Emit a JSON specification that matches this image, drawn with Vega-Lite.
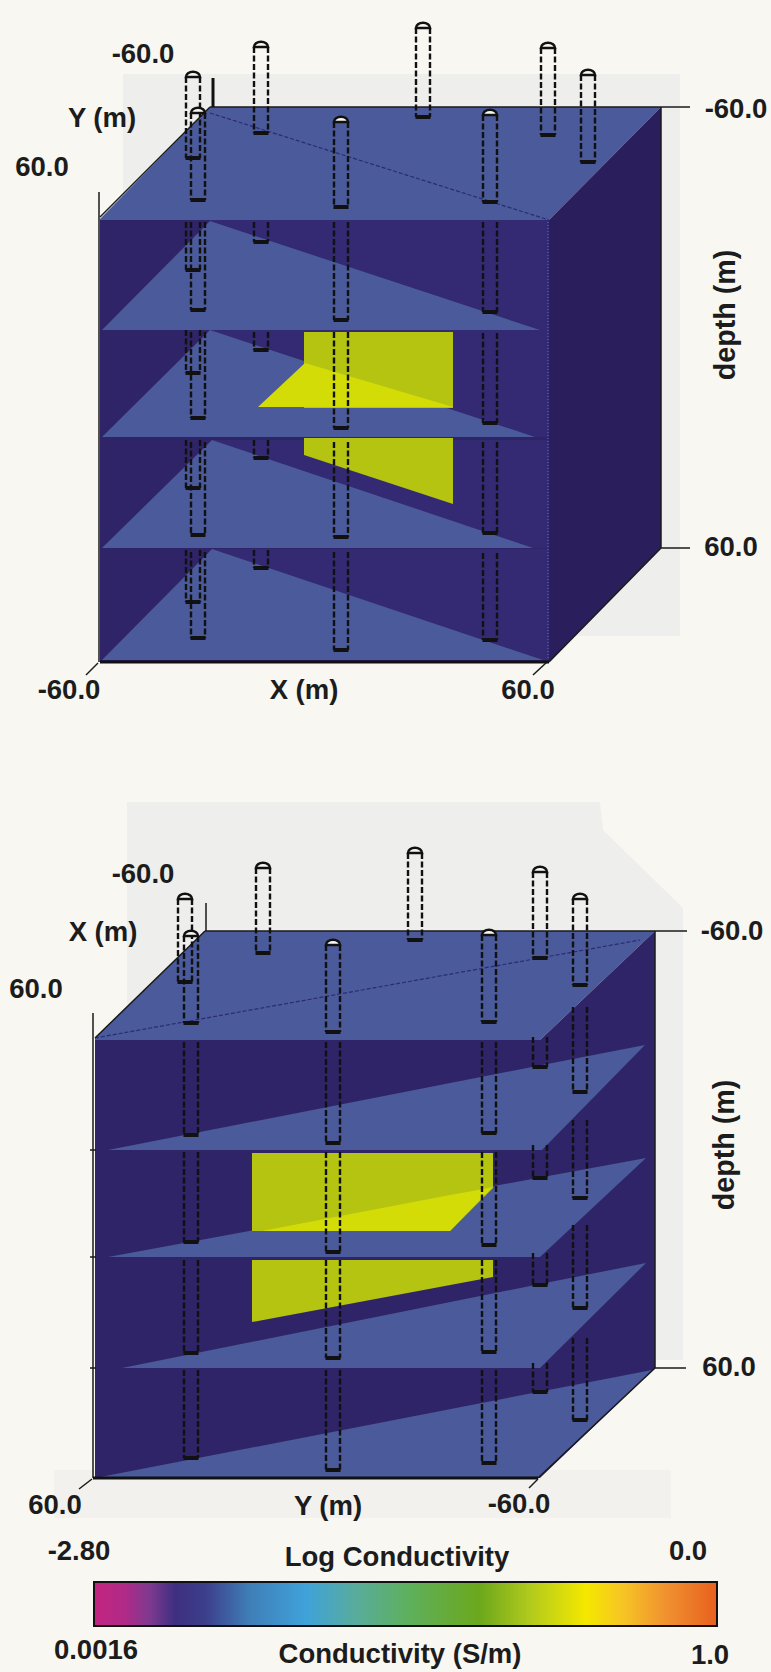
{"$schema":"https://vega.github.io/schema/vega-lite/v6.json","width":771,"height":1672,"padding":0,"autosize":{"type":"fit","contains":"padding"},"background":"#f8f7f1","config":{"view":{"stroke":null}},
"datasets":{
"polys":[
{"g":"ghost","p":"g1","tone":"ghost","x":123,"y":74,"y2":636},{"g":"ghost","p":"g1","tone":"ghost","x":680,"y":74,"y2":636},
{"g":"ghost","p":"g2","tone":"ghost","x":127,"y":802,"y2":1360},{"g":"ghost","p":"g2","tone":"ghost","x":600,"y":802,"y2":1360},{"g":"ghost","p":"g2","tone":"ghost","x":603,"y":830,"y2":1360},{"g":"ghost","p":"g2","tone":"ghost","x":683,"y":908,"y2":1360},
{"g":"ghost","p":"g3","tone":"ghostbar","x":54,"y":1470,"y2":1518},{"g":"ghost","p":"g3","tone":"ghostbar","x":671,"y":1470,"y2":1518},
{"g":"face","p":"t1","tone":"light","x":100,"y":219,"y2":220},{"g":"face","p":"t1","tone":"light","x":210,"y":107,"y2":220},{"g":"face","p":"t1","tone":"light","x":549,"y":107,"y2":220},{"g":"face","p":"t1","tone":"light","x":661,"y":107,"y2":107},
{"g":"face","p":"f1","tone":"dark","x":100,"y":220,"y2":662},{"g":"face","p":"f1","tone":"dark","x":549,"y":220,"y2":662},
{"g":"face","p":"r1","tone":"side","x":549,"y":220,"y2":662},{"g":"face","p":"r1","tone":"side","x":661,"y":107,"y2":548},
{"g":"face","p":"t2","tone":"light","x":95,"y":1038,"y2":1040},{"g":"face","p":"t2","tone":"light","x":205,"y":931,"y2":1040},{"g":"face","p":"t2","tone":"light","x":540,"y":931,"y2":1040},{"g":"face","p":"t2","tone":"light","x":655,"y":931,"y2":931},
{"g":"face","p":"f2","tone":"dark","x":95,"y":1040,"y2":1478},{"g":"face","p":"f2","tone":"dark","x":540,"y":1040,"y2":1478},
{"g":"face","p":"r2","tone":"dark","x":540,"y":1040,"y2":1478},{"g":"face","p":"r2","tone":"dark","x":655,"y":931,"y2":1368},
{"g":"mid","p":"m1","tone":"mid","x":208,"y":220,"y2":220},{"g":"mid","p":"m1","tone":"mid","x":540,"y":220,"y2":330},{"g":"mid","p":"m1","tone":"mid","x":549,"y":220,"y2":330},
{"g":"mid","p":"m2","tone":"mid","x":210,"y":330,"y2":330},{"g":"mid","p":"m2","tone":"mid","x":535,"y":330,"y2":437},{"g":"mid","p":"m2","tone":"mid","x":549,"y":330,"y2":437},
{"g":"mid","p":"m3","tone":"mid","x":212,"y":440,"y2":440},{"g":"mid","p":"m3","tone":"mid","x":533,"y":440,"y2":548},{"g":"mid","p":"m3","tone":"mid","x":549,"y":440,"y2":548},
{"g":"mid","p":"m4","tone":"mid","x":212,"y":549,"y2":549},{"g":"mid","p":"m4","tone":"mid","x":543,"y":549,"y2":660},{"g":"mid","p":"m4","tone":"mid","x":549,"y":549,"y2":660},
{"g":"shelf","p":"s12","tone":"light","x":102,"y":330,"y2":330},{"g":"shelf","p":"s12","tone":"light","x":210,"y":221,"y2":330},{"g":"shelf","p":"s12","tone":"light","x":540,"y":330,"y2":330},
{"g":"shelf","p":"s13","tone":"light","x":102,"y":437,"y2":437},{"g":"shelf","p":"s13","tone":"light","x":210,"y":330,"y2":437},{"g":"shelf","p":"s13","tone":"light","x":535,"y":437,"y2":437},
{"g":"shelf","p":"s14","tone":"light","x":102,"y":548,"y2":548},{"g":"shelf","p":"s14","tone":"light","x":212,"y":440,"y2":548},{"g":"shelf","p":"s14","tone":"light","x":533,"y":548,"y2":548},
{"g":"shelf","p":"s15","tone":"light","x":102,"y":660,"y2":660},{"g":"shelf","p":"s15","tone":"light","x":212,"y":549,"y2":660},{"g":"shelf","p":"s15","tone":"light","x":543,"y":660,"y2":660},
{"g":"shelf","p":"s22","tone":"light","x":108,"y":1150,"y2":1150},{"g":"shelf","p":"s22","tone":"light","x":542,"y":1065,"y2":1150},{"g":"shelf","p":"s22","tone":"light","x":645,"y":1045,"y2":1045},
{"g":"shelf","p":"s23","tone":"light","x":108,"y":1257,"y2":1257},{"g":"shelf","p":"s23","tone":"light","x":540,"y":1177.5,"y2":1257},{"g":"shelf","p":"s23","tone":"light","x":646,"y":1158,"y2":1158},
{"g":"shelf","p":"s24","tone":"light","x":122,"y":1368,"y2":1368},{"g":"shelf","p":"s24","tone":"light","x":540,"y":1284,"y2":1368},{"g":"shelf","p":"s24","tone":"light","x":646,"y":1263,"y2":1263},
{"g":"shelf","p":"s25","tone":"light","x":95,"y":1478,"y2":1478},{"g":"shelf","p":"s25","tone":"light","x":538,"y":1392,"y2":1478},{"g":"shelf","p":"s25","tone":"light","x":652,"y":1370,"y2":1370},
{"g":"dull","p":"d1","tone":"dull","x":304,"y":332,"y2":408},{"g":"dull","p":"d1","tone":"dull","x":453,"y":332,"y2":408},
{"g":"dull","p":"d2","tone":"dull","x":304,"y":438,"y2":455},{"g":"dull","p":"d2","tone":"dull","x":453,"y":438,"y2":504},
{"g":"dull","p":"d3","tone":"dull","x":252,"y":1153,"y2":1231},{"g":"dull","p":"d3","tone":"dull","x":450,"y":1153,"y2":1231},{"g":"dull","p":"d3","tone":"dull","x":493,"y":1153,"y2":1188},
{"g":"dull","p":"d4","tone":"dull","x":252,"y":1260,"y2":1322},{"g":"dull","p":"d4","tone":"dull","x":493,"y":1260,"y2":1277},
{"g":"bright","p":"b1","tone":"bright","x":258,"y":407,"y2":407},{"g":"bright","p":"b1","tone":"bright","x":305,"y":363,"y2":407},{"g":"bright","p":"b1","tone":"bright","x":453,"y":407,"y2":407},
{"g":"bright","p":"b2","tone":"bright","x":262,"y":1231,"y2":1231},{"g":"bright","p":"b2","tone":"bright","x":450,"y":1195,"y2":1231},{"g":"bright","p":"b2","tone":"bright","x":478,"y":1190,"y2":1202},{"g":"bright","p":"b2","tone":"bright","x":493,"y":1187,"y2":1187}
],
"segments":[
{"k":"diag","x":210,"y":113,"x2":549,"y2":220},{"k":"diag","x":95,"y":1038,"x2":640,"y2":940},
{"k":"dot","x":548,"y":222,"x2":548,"y2":660},
{"k":"thin","x":99,"y":192,"x2":99,"y2":662},{"k":"thin","x":100,"y":217,"x2":210,"y2":107},{"k":"thin","x":210,"y":107,"x2":690,"y2":107},{"k":"thin","x":661,"y":107,"x2":661,"y2":548},{"k":"thin","x":661,"y":548,"x2":690,"y2":548},{"k":"thin","x":549,"y":662,"x2":661,"y2":548},{"k":"thin","x":98,"y":663,"x2":86,"y2":675},{"k":"thin","x":547,"y":662,"x2":533,"y2":675},
{"k":"thin","x":93,"y":1013,"x2":93,"y2":1478},{"k":"thin","x":95,"y":1038,"x2":205,"y2":931},{"k":"thin","x":205,"y":931,"x2":687,"y2":931},{"k":"thin","x":655,"y":931,"x2":655,"y2":1368},{"k":"thin","x":655,"y":1368,"x2":686,"y2":1368},{"k":"thin","x":538,"y":1478,"x2":655,"y2":1368},{"k":"thin","x":92,"y":1479,"x2":79,"y2":1489},{"k":"thin","x":538,"y":1479,"x2":529,"y2":1488},{"k":"thin","x":206,"y":903,"x2":206,"y2":931},{"k":"thin","x":90,"y":1150,"x2":96,"y2":1150},{"k":"thin","x":90,"y":1257,"x2":96,"y2":1257},{"k":"thin","x":90,"y":1368,"x2":96,"y2":1368},
{"k":"thick","x":100,"y":662,"x2":549,"y2":662},{"k":"thick","x":93,"y":1478,"x2":538,"y2":1478},{"k":"thick","x":213,"y":78,"x2":213,"y2":107}
],
"wells":[
{"x":193,"y":77,"y2":158},{"x":193,"y":222,"y2":270},{"x":193,"y":330,"y2":373},{"x":193,"y":440,"y2":488},{"x":193,"y":550,"y2":602},
{"x":198,"y":113,"y2":200},{"x":198,"y":222,"y2":310},{"x":198,"y":332,"y2":418},{"x":198,"y":442,"y2":535},{"x":198,"y":552,"y2":638},
{"x":261,"y":47,"y2":133},{"x":261,"y":222,"y2":242},{"x":261,"y":332,"y2":350},{"x":261,"y":440,"y2":458},{"x":261,"y":550,"y2":568},
{"x":341,"y":122,"y2":207},{"x":341,"y":222,"y2":320},{"x":341,"y":332,"y2":428},{"x":341,"y":442,"y2":537},{"x":341,"y":552,"y2":650},
{"x":423,"y":28,"y2":117},
{"x":490,"y":115,"y2":202},{"x":490,"y":222,"y2":312},{"x":490,"y":333,"y2":423},{"x":490,"y":442,"y2":533},{"x":490,"y":553,"y2":640},
{"x":548,"y":48,"y2":135},{"x":588,"y":75,"y2":162},
{"x":185,"y":899,"y2":982},
{"x":191,"y":936,"y2":1023},{"x":191,"y":1042,"y2":1135},{"x":191,"y":1152,"y2":1242},{"x":191,"y":1260,"y2":1353},{"x":191,"y":1370,"y2":1458},
{"x":263,"y":868,"y2":953},
{"x":333,"y":945,"y2":1032},{"x":333,"y":1042,"y2":1143},{"x":333,"y":1152,"y2":1252},{"x":333,"y":1260,"y2":1358},{"x":333,"y":1370,"y2":1470},
{"x":415,"y":853,"y2":940},
{"x":489,"y":935,"y2":1022},{"x":489,"y":1042,"y2":1133},{"x":489,"y":1152,"y2":1245},{"x":489,"y":1260,"y2":1352},{"x":489,"y":1370,"y2":1463},
{"x":540,"y":872,"y2":958},{"x":540,"y":1037,"y2":1067},{"x":540,"y":1145,"y2":1178},{"x":540,"y":1253,"y2":1285},{"x":540,"y":1363,"y2":1392},
{"x":580,"y":899,"y2":985},{"x":580,"y":1007,"y2":1092},{"x":580,"y":1120,"y2":1198},{"x":580,"y":1225,"y2":1308},{"x":580,"y":1338,"y2":1420}
],
"caps":[{"x":193,"y":77},{"x":198,"y":113},{"x":261,"y":47},{"x":341,"y":122},{"x":423,"y":28},{"x":490,"y":115},{"x":548,"y":48},{"x":588,"y":75},{"x":185,"y":899},{"x":191,"y":936},{"x":263,"y":868},{"x":333,"y":945},{"x":415,"y":853},{"x":489,"y":935},{"x":540,"y":872},{"x":580,"y":899}],
"labels":[
{"x":143,"y":55,"t":"-60.0"},{"x":102,"y":119,"t":"Y (m)"},{"x":42,"y":168,"t":"60.0"},{"x":736,"y":110,"t":"-60.0"},{"x":731,"y":548,"t":"60.0"},{"x":69,"y":691,"t":"-60.0"},{"x":304,"y":691,"t":"X (m)"},{"x":528,"y":691,"t":"60.0"},
{"x":143,"y":875,"t":"-60.0"},{"x":103,"y":933,"t":"X (m)"},{"x":36,"y":990,"t":"60.0"},{"x":732,"y":932,"t":"-60.0"},{"x":729,"y":1368,"t":"60.0"},{"x":55,"y":1506,"t":"60.0"},{"x":328,"y":1507,"t":"Y (m)"},{"x":519,"y":1505,"t":"-60.0"},
{"x":79,"y":1552,"t":"-2.80"},{"x":397,"y":1558,"t":"Log Conductivity"},{"x":688,"y":1552,"t":"0.0"},{"x":96,"y":1651,"t":"0.0016"},{"x":400,"y":1655,"t":"Conductivity (S/m)"},{"x":710,"y":1656,"t":"1.0"}
],
"vlabels":[{"x":726,"y":315,"t":"depth (m)"},{"x":725,"y":1145,"t":"depth (m)"}],
"bar":[{"x":94,"y":1582,"x2":717,"y2":1626}]
},
"encoding":{
"x":{"field":"x","type":"quantitative","scale":{"domain":[0,771],"nice":false,"zero":false},"axis":null},
"y":{"field":"y","type":"quantitative","stack":null,"scale":{"domain":[1672,0],"nice":false,"zero":false},"axis":null}
},
"layer":[
{"data":{"name":"polys"},"transform":[{"filter":"datum.g=='ghost'"}],"mark":{"type":"area","orient":"vertical"},"encoding":{"y2":{"field":"y2"},"detail":{"field":"p"},"color":{"field":"tone","type":"nominal","legend":null,"scale":{"domain":["ghost","ghostbar","light","dark","side","mid","dull","bright"],"range":["#eeeeed","#f3f1ee","#4a5a9a","#2f2468","#2a1e5c","#342a74","#b4c410","#d4dc08"]}}}},
{"data":{"name":"polys"},"transform":[{"filter":"datum.g=='face'"}],"mark":{"type":"area","orient":"vertical"},"encoding":{"y2":{"field":"y2"},"detail":{"field":"p"},"color":{"field":"tone","type":"nominal","legend":null}}},
{"data":{"name":"polys"},"transform":[{"filter":"datum.g=='mid'"}],"mark":{"type":"area","orient":"vertical"},"encoding":{"y2":{"field":"y2"},"detail":{"field":"p"},"color":{"field":"tone","type":"nominal","legend":null}}},
{"data":{"name":"polys"},"transform":[{"filter":"datum.g=='shelf'"}],"mark":{"type":"area","orient":"vertical"},"encoding":{"y2":{"field":"y2"},"detail":{"field":"p"},"color":{"field":"tone","type":"nominal","legend":null}}},
{"data":{"name":"polys"},"transform":[{"filter":"datum.g=='dull'"}],"mark":{"type":"area","orient":"vertical"},"encoding":{"y2":{"field":"y2"},"detail":{"field":"p"},"color":{"field":"tone","type":"nominal","legend":null}}},
{"data":{"name":"polys"},"transform":[{"filter":"datum.g=='bright'"}],"mark":{"type":"area","orient":"vertical"},"encoding":{"y2":{"field":"y2"},"detail":{"field":"p"},"color":{"field":"tone","type":"nominal","legend":null}}},
{"data":{"name":"segments"},"transform":[{"filter":"datum.k=='diag'"}],"mark":{"type":"rule","color":"#2c2a78","strokeWidth":1.2,"strokeDash":[4,2]},"encoding":{"x2":{"field":"x2"},"y2":{"field":"y2"}}},
{"data":{"name":"segments"},"transform":[{"filter":"datum.k=='dot'"}],"mark":{"type":"rule","color":"#5566b8","strokeWidth":1.2,"strokeDash":[1,2]},"encoding":{"x2":{"field":"x2"},"y2":{"field":"y2"}}},
{"data":{"name":"segments"},"transform":[{"filter":"datum.k=='thin'"}],"mark":{"type":"rule","color":"#1a1a1a","strokeWidth":1.5},"encoding":{"x2":{"field":"x2"},"y2":{"field":"y2"}}},
{"data":{"name":"segments"},"transform":[{"filter":"datum.k=='thick'"}],"mark":{"type":"rule","color":"#111111","strokeWidth":3},"encoding":{"x2":{"field":"x2"},"y2":{"field":"y2"}}},
{"data":{"name":"wells"},"mark":{"type":"rule","color":"#111111","strokeWidth":2.4,"strokeDash":[6,2.5],"xOffset":-7},"encoding":{"y2":{"field":"y2"}}},
{"data":{"name":"wells"},"mark":{"type":"rule","color":"#111111","strokeWidth":2.4,"strokeDash":[6,2.5],"xOffset":7},"encoding":{"y2":{"field":"y2"}}},
{"data":{"name":"wells"},"mark":{"type":"tick","orient":"horizontal","color":"#111111","size":15,"thickness":4,"opacity":1},"encoding":{"y":{"field":"y2","type":"quantitative","stack":null,"scale":{"domain":[1672,0],"nice":false,"zero":false},"axis":null}}},
{"data":{"name":"caps"},"mark":{"type":"point","filled":true,"fill":"#f8f7f1","stroke":"#111111","strokeWidth":2.5,"opacity":1,"shape":"M-1,0 A1,0.75 0 0 1 1,0 Z","size":200}},
{"data":{"name":"bar"},"mark":{"type":"rect","stroke":"#111111","strokeWidth":2,"color":{"gradient":"linear","x1":0,"x2":1,"y1":0,"y2":0,"stops":[{"offset":0,"color":"#c32480"},{"offset":0.05,"color":"#b02a88"},{"offset":0.09,"color":"#7d3a90"},{"offset":0.13,"color":"#3e2f80"},{"offset":0.18,"color":"#3c3f8c"},{"offset":0.25,"color":"#3f7fb8"},{"offset":0.34,"color":"#3fa2da"},{"offset":0.42,"color":"#58ac9c"},{"offset":0.5,"color":"#5eb060"},{"offset":0.62,"color":"#6ca81c"},{"offset":0.7,"color":"#b2ca1c"},{"offset":0.79,"color":"#f5e800"},{"offset":0.85,"color":"#f6c424"},{"offset":0.92,"color":"#f09030"},{"offset":1,"color":"#e8601e"}]}},"encoding":{"x2":{"field":"x2"},"y2":{"field":"y2"}}},
{"data":{"name":"labels"},"mark":{"type":"text","font":"Liberation Sans","fontSize":27.5,"fontWeight":"bold","align":"center","baseline":"middle","color":"#1c1c1c"},"encoding":{"text":{"field":"t","type":"nominal"}}},
{"data":{"name":"vlabels"},"mark":{"type":"text","font":"Liberation Sans","fontSize":28.7,"fontWeight":"bold","angle":270,"align":"center","baseline":"middle","color":"#1c1c1c"},"encoding":{"text":{"field":"t","type":"nominal"}}}
]}
